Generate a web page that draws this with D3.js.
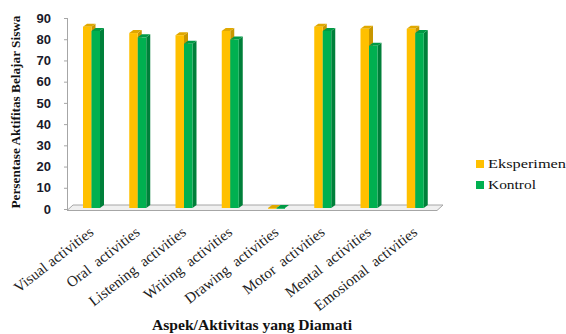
<!DOCTYPE html>
<html><head><meta charset="utf-8">
<script src="https://cdn.jsdelivr.net/npm/d3@7"></script>
<style>body{margin:0;background:#fff}svg{display:block}</style>
</head><body>
<svg id="c" width="566" height="334"></svg>
<script>
const categories = ["Visual activities","Oral  activities","Listening  activities","Writing  activities","Drawing  activities","Motor  activities","Mental  activities","Emosional  activities"];
const series = ["Eksperimen","Kontrol"];
const eksperimen = [85,82,81,83,0,85,84,84];
const kontrol = [83,80,77,79,0,83,76,82];
const yTicks = [0,10,20,30,40,50,60,70,80,90];
const colors = {Eksperimen:{front:"#FFC000",side:"#C89600",top:"#E0A800"},Kontrol:{front:"#00B050",side:"#00803A",top:"#009A45"}};

const svg = d3.select("#c");
const x = d3.scaleBand().domain(categories).range([67,437]);
const xi = d3.scaleBand().domain(series).range([16,33]);
const y = d3.scaleLinear().domain([0,90]).range([208,16]);
const yAxisScale = d3.scaleLinear().domain([0,90]).range([209,18]);
const dx = 4, dy = 3;

// floor
svg.append("polygon")
  .attr("points",[[67,210.5],[437,210.5],[443,205],[73,205]].map(p=>p.join(",")).join(" "))
  .attr("fill","#f0f0f0").attr("stroke","#a6a6a6").attr("stroke-width",1);

// y axis line & ticks
svg.append("line").attr("x1",67.5).attr("x2",67.5).attr("y1",yAxisScale(90)).attr("y2",210.5)
  .attr("stroke","#a6a6a6");
svg.selectAll(".tk").data(yTicks).join("line")
  .attr("x1",64).attr("x2",67.5).attr("y1",d=>yAxisScale(d)+0.5).attr("y2",d=>yAxisScale(d)+0.5)
  .attr("stroke","#a6a6a6");
svg.selectAll(".yl").data(yTicks).join("text")
  .attr("x",51).attr("y",d=>yAxisScale(d)).attr("dy","0.36em")
  .attr("text-anchor","end")
  .attr("font-family","Liberation Sans, Arial, sans-serif").attr("font-weight","bold")
  .attr("font-size",13).attr("fill","#1a1a2a").text(d=>d);

// bars
const rows = categories.map((c,i)=>({c, vals:[{s:"Eksperimen",v:eksperimen[i]},{s:"Kontrol",v:kontrol[i]}]}));
rows.forEach(r=>{
  r.vals.forEach(d=>{
    const x0 = x(r.c)+xi(d.s), w = xi.bandwidth(), y0 = y(d.v), yb = y(0);
    const col = colors[d.s];
    const g = svg.append("g");
    g.append("polygon").attr("points",[[x0+w,y0],[x0+w+dx,y0-dy],[x0+w+dx,yb-dy],[x0+w,yb]].map(p=>p.join(",")).join(" "))
      .attr("fill",col.side);
    g.append("polygon").attr("points",[[x0,y0],[x0+dx,y0-dy],[x0+w+dx,y0-dy],[x0+w,y0]].map(p=>p.join(",")).join(" "))
      .attr("fill",col.top);
    g.append("rect").attr("x",x0).attr("y",y0).attr("width",w).attr("height",Math.max(0.8,yb-y0)).attr("fill",col.front);
  });
});

// category labels
svg.selectAll(".xl").data(categories).join("text")
  .attr("transform",d=>`translate(${x(d)+xi("Kontrol")+3},${234}) rotate(-38)`)
  .attr("text-anchor","end")
  .attr("font-family","Liberation Serif, Times New Roman, serif")
  .attr("font-size",15).attr("fill","#222")
  .style("white-space","pre").text(d=>d);

// y title
svg.append("text").attr("transform","translate(20,112) rotate(-90)")
  .attr("text-anchor","middle").attr("font-family","Liberation Serif, Times New Roman, serif")
  .attr("font-weight","bold").attr("font-size",12).attr("fill","#111")
  .attr("textLength",193).attr("lengthAdjust","spacingAndGlyphs")
  .text("Persentase Aktifitas Belajar Siswa");

// x title
svg.append("text").attr("x",252).attr("y",330).attr("text-anchor","middle")
  .attr("font-family","Liberation Serif, Times New Roman, serif").attr("font-weight","bold")
  .attr("font-size",14).attr("fill","#111")
  .attr("textLength",200).attr("lengthAdjust","spacingAndGlyphs")
  .text("Aspek/Aktivitas yang Diamati");

// legend
const lg = svg.selectAll(".lg").data(series).join("g").attr("transform",(d,i)=>`translate(476,${160+i*21})`);
lg.append("rect").attr("width",8).attr("height",8).attr("fill",d=>colors[d].front);
lg.append("text").attr("x",12).attr("y",8).attr("font-family","Liberation Serif, Times New Roman, serif")
  .attr("font-size",13).attr("fill","#111")
  .attr("textLength",(d,i)=>i===0?78:48).attr("lengthAdjust","spacingAndGlyphs").text(d=>d);
</script>
</body></html>
